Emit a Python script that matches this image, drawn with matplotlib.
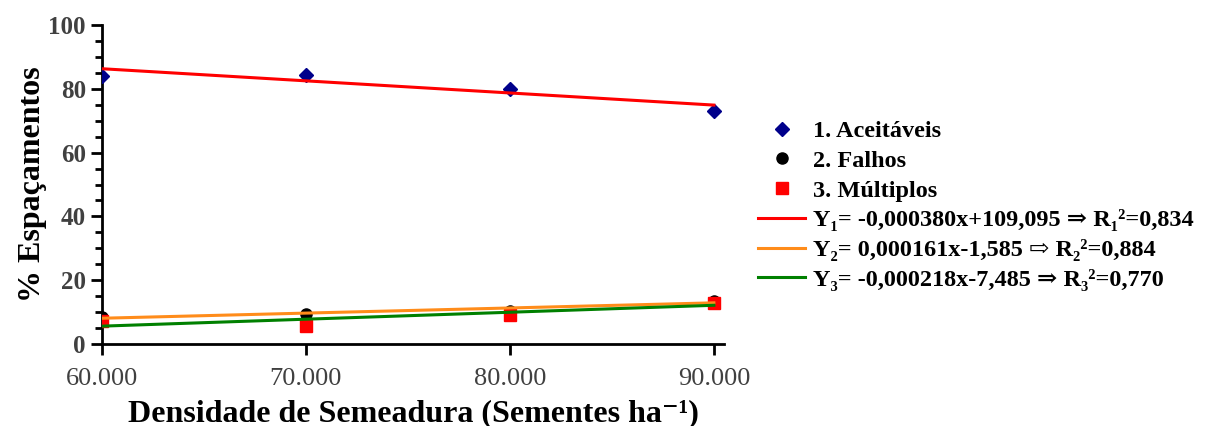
# espacamentos vs densidade de semeadura, com retas ajustadas

import matplotlib
matplotlib.use('Agg')
import matplotlib.pyplot as plt
import numpy as np

# dados
densidade = [60000, 70000, 80000, 90000]
aceitaveis = [84.0, 84.3, 79.9, 73.0]
falhos = [8.5, 9.4, 10.5, 13.6]
multiplos = [7.2, 5.7, 9.1, 12.9]

# coeficientes das retas (a, b) -> y = a*x + b
reta1 = (-0.000380, 109.095)
reta2 = (0.000161, -1.585)
reta3 = (0.000218, -7.485)

rotulos_pontos = ['1. Aceitáveis', '2. Falhos', '3. Múltiplos']
rotulos_retas = ['Y₁= -0,000380x+109,095 ⇒ R₁²=0,834',
                 'Y₂= 0,000161x-1,585 ⇨ R₂²=0,884',
                 'Y₃= -0,000218x-7,485 ⇒ R₃²=0,770']

plt.rcParams['font.family'] = ['Liberation Serif', 'DejaVu Serif']

fig = plt.figure(figsize=(12.08, 4.26), dpi=100)
ax = fig.add_axes([0.0844, 0.1925, 0.5150, 0.7488])

p1, = ax.plot(densidade, aceitaveis, 'D', color='#00008b', markersize=7, linestyle='none', zorder=3)
p2, = ax.plot(densidade, falhos, 'o', color='black', markersize=8, linestyle='none', zorder=3)
p3, = ax.plot(densidade, multiplos, 's', color='#ff0000', markersize=8, linestyle='none', zorder=3)

xs = np.array([densidade[0], densidade[-1]])
l1, = ax.plot(xs, reta1[0] * xs + reta1[1], color='#ff0000', lw=2.2, zorder=4)
l2, = ax.plot(xs, reta2[0] * xs + reta2[1], color='#ff8c1a', lw=2.2, zorder=4)
l3, = ax.plot(xs, reta3[0] * xs + reta3[1], color='#008000', lw=2.2, zorder=4)

ax.set_xlim(60000, 90500)
ax.set_ylim(0, 100)
ax.spines['top'].set_visible(False)
ax.spines['right'].set_visible(False)
ax.spines['left'].set_linewidth(2)
ax.spines['bottom'].set_linewidth(2)

ax.set_xticks(densidade)
ax.set_xticklabels(['60.000', '70.000', '80.000', '90.000'])
ax.set_yticks([0, 20, 40, 60, 80, 100])
ax.set_yticks(np.arange(0, 101, 5), minor=True)
ax.tick_params(axis='both', which='major', length=8, width=2, direction='out')
ax.tick_params(axis='x', which='major', pad=9)
ax.tick_params(axis='y', which='minor', length=5, width=2)
for lab in ax.get_xticklabels():
    lab.set_fontsize(19)
    lab.set_color('#404040')
for lab in ax.get_yticklabels():
    lab.set_fontsize(18)
    lab.set_fontweight('bold')
    lab.set_color('#404040')

ax.set_xlabel('Densidade de Semeadura (Sementes ha⁻¹)', fontsize=23, fontweight='bold', labelpad=7)
ax.set_ylabel('% Espaçamentos', fontsize=23, fontweight='bold', labelpad=1)

leg = fig.legend([p1, p2, p3, l1, l2, l3], rotulos_pontos + rotulos_retas,
                 loc='center left', bbox_to_anchor=(0.6275, 0.5176), frameon=False,
                 prop={'size': 17.5, 'weight': 'bold'}, handlelength=1.95,
                 handletextpad=0.3, labelspacing=0.32, borderpad=0, borderaxespad=0)

plt.savefig('out.png', dpi=100)
plt.close()
